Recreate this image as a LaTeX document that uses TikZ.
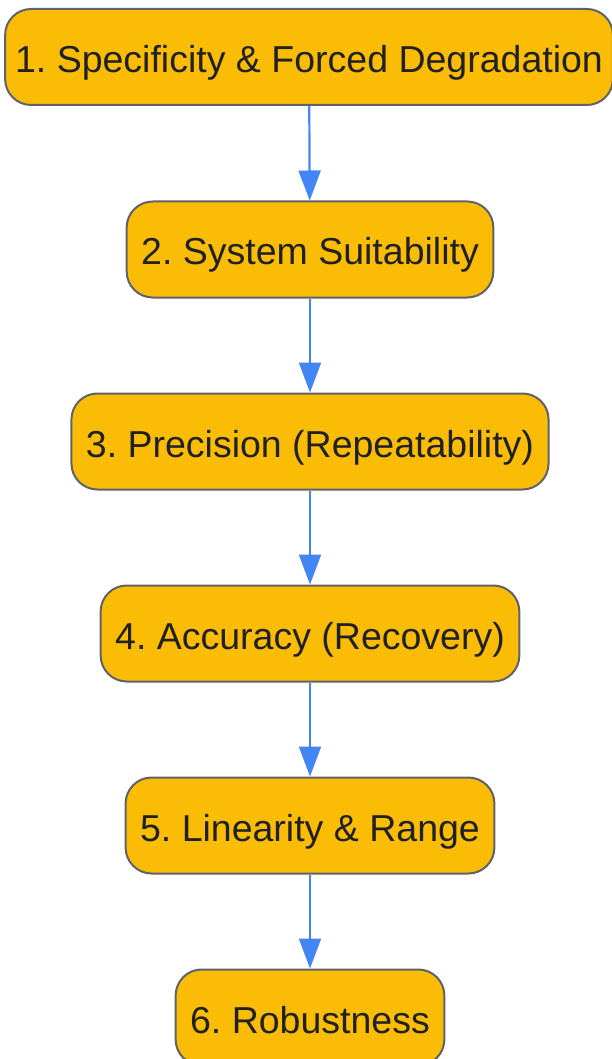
\documentclass[tikz,border=0pt]{standalone}
\usepackage{fontspec}
\setmainfont{Liberation Sans}
\usetikzlibrary{arrows.meta,shapes,positioning}

\definecolor{stepfill}{HTML}{FBBC05}
\definecolor{stepline}{HTML}{5F6368}
\definecolor{steptext}{HTML}{202124}
\definecolor{flowblue}{HTML}{4285F4}

\begin{document}
\frenchspacing
\begin{tikzpicture}[x=1pt,y=1pt,
		stepbox/.style={draw=stepline, line width=2pt, fill=stepfill, text=steptext,
			rounded corners=26pt, minimum height=96pt, inner xsep=14.5pt,
			text height=33pt, text depth=2pt,
			font=\fontsize{37.5}{40}\selectfont},
		flow/.style={draw=flowblue, fill=flowblue, line width=2.2pt,
			-{Triangle[width=22pt,length=30pt]}}]
			\useasboundingbox (0,0) rectangle (612,-1059);

			\node[stepbox, inner xsep=10pt] (A) at (309,-57) {1. Specificity \& Forced Degradation};
			\node[stepbox] (B) at (310,-249.5) {2. System Suitability};
			\node[stepbox] (C) at (310,-441.5) {3. Precision (Repeatability)};
			\node[stepbox] (D) at (310,-633.5) {4. Accuracy (Recovery)};
			\node[stepbox] (E) at (310,-825.5) {5. Linearity \& Range};
			\node[stepbox] (F) at (310,-1017.5) {6. Robustness};

			\path (A) edge[flow] (B);
			\path (B) edge[flow] (C);
			\path (C) edge[flow] (D);
			\path (D) edge[flow] (E);
			\path (E) edge[flow] (F);
		\end{tikzpicture}
\end{document}
